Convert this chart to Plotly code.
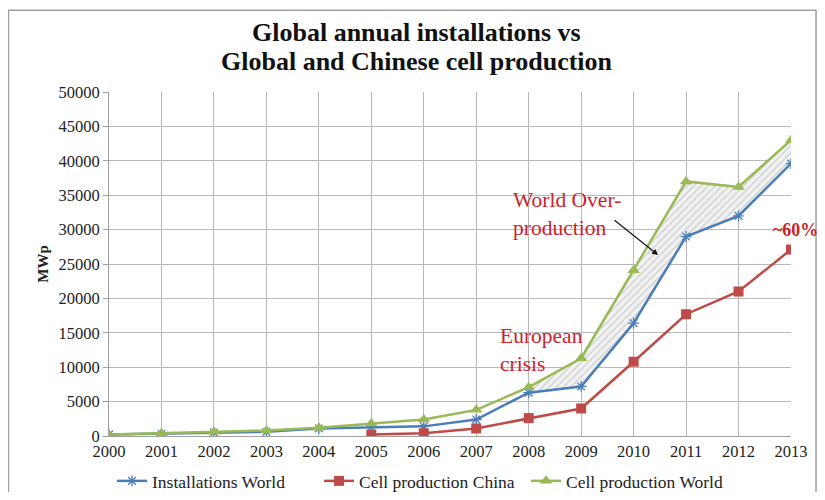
import plotly.graph_objects as go

years = [2000, 2001, 2002, 2003, 2004, 2005, 2006, 2007, 2008, 2009, 2010, 2011, 2012, 2013]
installations_world = [200, 300, 500, 600, 1100, 1300, 1400, 2400, 6300, 7200, 16400, 29000, 32000, 39600]
china_years = [2005, 2006, 2007, 2008, 2009, 2010, 2011, 2012, 2013]
cell_production_china = [200, 400, 1100, 2600, 4000, 10800, 17700, 21000, 27100]
cell_production_world = [200, 400, 600, 800, 1200, 1800, 2400, 3800, 7100, 11300, 24100, 37000, 36200, 43000]
gap_start_index = 8  # overproduction shading from 2008

BLUE = "#4a7ebb"
RED = "#be4b48"
GREEN = "#98b954"
SERIF = "Liberation Serif, Times New Roman, serif"
ANNOT_RED = "#cc2229"

fig = go.Figure()

# hatched overproduction area (between installations and world cell production)
fig.add_trace(go.Scatter(
    x=years[gap_start_index:], y=installations_world[gap_start_index:],
    mode="lines", line=dict(width=0, color=BLUE), showlegend=False, hoverinfo="skip"))
fig.add_trace(go.Scatter(
    x=years[gap_start_index:], y=cell_production_world[gap_start_index:],
    mode="lines", line=dict(width=0, color=GREEN), fill="tonexty",
    fillcolor="rgba(235,235,235,0.9)",
    fillpattern=dict(shape="/", fgcolor="#a8a8a8", bgcolor="#f2f2f2", size=5, solidity=0.25),
    showlegend=False, hoverinfo="skip"))

fig.add_trace(go.Scatter(
    x=years, y=installations_world, name="Installations World",
    mode="lines+markers", line=dict(color=BLUE, width=2.5),
    marker=dict(symbol="asterisk-open", size=9, color=BLUE, line=dict(color=BLUE, width=1.3))))
fig.add_trace(go.Scatter(
    x=china_years, y=cell_production_china, name="Cell production China",
    mode="lines+markers", line=dict(color=RED, width=2.5),
    marker=dict(symbol="square", size=10, color=RED)))
fig.add_trace(go.Scatter(
    x=years, y=cell_production_world, name="Cell production World",
    mode="lines+markers", line=dict(color=GREEN, width=2.5),
    marker=dict(symbol="triangle-up", size=11, color=GREEN)))

fig.update_layout(
    width=809, height=484,
    margin=dict(l=101, r=26, t=84, b=56, autoexpand=False),
    paper_bgcolor="white", plot_bgcolor="white",
    font=dict(family=SERIF, size=16, color="#222"),
    xaxis=dict(range=[2000, 2013], tickmode="array", tickvals=years,
               ticktext=[str(y) for y in years],
               showgrid=True, gridcolor="#b8b8b8", gridwidth=1,
               showline=True, linecolor="#a0a0a0", zeroline=False,
               ticks="", tickfont=dict(family=SERIF, size=16.5, color="#222")),
    yaxis=dict(range=[0, 50000], dtick=5000, tickformat="d", showgrid=True, gridcolor="#b8b8b8",
               showline=True, linecolor="#a0a0a0", zeroline=False, ticks="outside",
               ticklen=5, tickcolor="#a0a0a0",
               title=dict(text="<b>MWp</b>", font=dict(family=SERIF, size=15, color="#222"), standoff=6),
               tickfont=dict(family=SERIF, size=16.5, color="#222")),
    legend=dict(orientation="h", x=0.0044, xanchor="left", y=-0.1308, yanchor="middle",
                traceorder="normal", entrywidth=162, itemwidth=30,
                font=dict(family=SERIF, size=17.5, color="#222")),
    shapes=[dict(type="rect", xref="paper", yref="paper",
                 x0=-0.1474, x1=1.0367, y0=-0.195, y1=1.238,
                 line=dict(color="#a0a0a0", width=1.5))],
    annotations=[
        dict(x=0.4516, y=1.1744, xref="paper", yref="paper", text="<b>Global annual installations vs</b>",
             showarrow=False, xanchor="center", yanchor="middle",
             font=dict(family=SERIF, size=26, color="#111")),
        dict(x=0.4516, y=1.0901, xref="paper", yref="paper", text="<b>Global and Chinese cell production</b>",
             showarrow=False, xanchor="center", yanchor="middle",
             font=dict(family=SERIF, size=26, color="#111")),
        dict(x=2007.66, y=32200, xref="x", yref="y", text="World Over-<br>production",
             showarrow=False, xanchor="left", yanchor="middle", align="left",
             font=dict(family=SERIF, size=21.5, color=ANNOT_RED)),
        dict(x=2010.465, y=26310, ax=2009.607, ay=31540, xref="x", yref="y", axref="x", ayref="y",
             text="", showarrow=True, arrowhead=2, arrowsize=1, arrowwidth=1.2, arrowcolor="#111"),
        dict(x=2007.42, y=12500, xref="x", yref="y", text="European<br>crisis",
             showarrow=False, xanchor="left", yanchor="middle", align="left",
             font=dict(family=SERIF, size=21.5, color=ANNOT_RED)),
        dict(x=2012.62, y=29940, xref="x", yref="y", text="<b>~60%</b>",
             showarrow=False, xanchor="left", yanchor="middle",
             font=dict(family=SERIF, size=18, color=ANNOT_RED)),
    ],
)

fig.write_html("out.html")
